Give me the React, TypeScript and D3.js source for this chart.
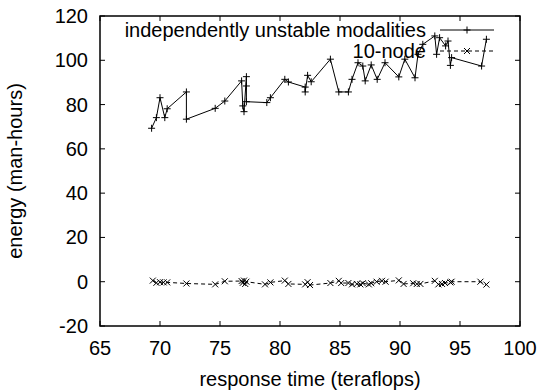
import React from 'react';
import * as d3 from 'd3';

// series 1: independently unstable modalities
const unstableX = [69.3, 69.7, 70.0, 70.4, 70.6, 72.2, 72.2, 74.6, 75.4, 76.8, 76.9, 77.0, 77.2, 77.2, 77.2, 78.9, 79.2, 80.4, 80.7, 82.1, 82.1, 82.3, 82.6, 84.2, 84.9, 85.7, 86.0, 86.5, 86.9, 87.1, 87.6, 88.1, 88.75, 89.9, 90.4, 91.25, 91.5, 91.9, 92.9, 93.05, 93.3, 93.8, 94.0, 94.2, 94.3, 96.8, 97.2];
const unstableY = [69.3, 74.1, 83.1, 74.1, 78.1, 85.7, 73.4, 78.3, 81.6, 90.7, 79.4, 76.8, 92.6, 88.4, 81.3, 80.9, 83.1, 91.4, 90.2, 87.9, 85.7, 93.2, 90.3, 100.5, 85.7, 85.7, 91.4, 98.9, 97.4, 90.7, 97.9, 91.4, 98.9, 92.5, 100.5, 92.1, 102.7, 107.2, 111.0, 102.7, 110.2, 106.5, 108.7, 97.7, 101.2, 97.4, 109.5];

// series 2: 10-node
const nodeX = [69.4, 69.7, 70.0, 70.3, 70.6, 72.2, 74.6, 75.4, 76.8, 76.9, 77.0, 77.1, 77.2, 78.75, 79.2, 80.4, 80.7, 82.1, 82.3, 82.5, 84.2, 84.9, 85.1, 85.7, 86.0, 86.4, 86.7, 86.9, 87.4, 87.6, 88.05, 88.5, 88.8, 89.9, 90.3, 91.1, 91.4, 91.7, 92.9, 93.2, 93.5, 93.75, 94.2, 94.3, 96.7, 97.2];
const nodeY = [0.5, -0.5, -0.2, -0.3, -0.3, -0.8, -1.2, 0.2, 0.3, -0.5, 0.5, -1.0, 0.0, -1.2, -0.3, 0.5, -1.0, -1.2, -0.2, -1.5, -0.6, 0.4, -0.6, -0.6, -1.2, -1.0, -1.2, -0.7, -1.2, -0.7, 0.0, 0.4, 0.0, 0.6, -1.0, -0.7, -1.0, -1.0, 0.4, -1.2, -1.0, -0.6, -0.3, 0.0, 0.0, -1.3];

const xTicks = [65, 70, 75, 80, 85, 90, 95, 100];
const yTicks = [-20, 0, 20, 40, 60, 80, 100, 120];
const labels = ['independently unstable modalities', '10-node'];

const App: React.FC = () => {
  const width = 540;
  const height = 391;
  const left = 100, right = 520, top = 16, bottom = 326;
  const font = '"Liberation Sans", Arial, Helvetica, sans-serif';
  const fs = 20;

  const x = d3.scaleLinear().domain([65, 100]).range([left, right]);
  const y = d3.scaleLinear().domain([-20, 120]).range([bottom, top]);

  const s1 = unstableX.map((v, i) => [v, unstableY[i]] as [number, number]);
  const s2 = nodeX.map((v, i) => [v, nodeY[i]] as [number, number]);
  const line = d3.line<[number, number]>().x(d => x(d[0])).y(d => y(d[1]));

  // gnuplot point types: + and x
  const plus = (cx: number, cy: number, k: string) => (
    <path key={k} d={`M${cx - 3.5},${cy}h7M${cx},${cy - 3.5}v7`} stroke="#000" strokeWidth={1} />
  );
  const cross = (cx: number, cy: number, k: string) => (
    <path key={k} d={`M${cx - 3},${cy - 3}l6,6M${cx - 3},${cy + 3}l6,-6`} stroke="#000" strokeWidth={1} />
  );

  const tl = 5;

  return (
    <svg width={width} height={height} style={{ position: 'absolute', left: 0, top: 0, background: '#fff' }}
      fontFamily={font} fontSize={fs}>
      {/* ticks, mirrored */}
      {xTicks.map(t => (
        <g key={'xt' + t}>
          <line x1={x(t)} x2={x(t)} y1={bottom} y2={bottom - tl} stroke="#000" />
          <line x1={x(t)} x2={x(t)} y1={top} y2={top + tl} stroke="#000" />
          <text x={x(t)} y={bottom + 29} textAnchor="middle">{t}</text>
        </g>
      ))}
      {yTicks.map(t => (
        <g key={'yt' + t}>
          <line x1={left} x2={left + tl} y1={y(t)} y2={y(t)} stroke="#000" />
          <line x1={right} x2={right - tl} y1={y(t)} y2={y(t)} stroke="#000" />
          <text x={left - 12} y={y(t)} dy="0.35em" textAnchor="end">{t}</text>
        </g>
      ))}
      <rect x={left} y={top} width={right - left} height={bottom - top} fill="none" stroke="#000" strokeWidth={1.5} />

      {/* series */}
      <path d={line(s1) || ''} fill="none" stroke="#000" strokeWidth={1} />
      {s1.map((d, i) => plus(x(d[0]), y(d[1]), 'p' + i))}
      <path d={line(s2) || ''} fill="none" stroke="#000" strokeWidth={1} strokeDasharray="4,3" />
      {s2.map((d, i) => cross(x(d[0]), y(d[1]), 'c' + i))}

      {/* legend */}
      <text x={426} y={30} dy="0.35em" textAnchor="end">{labels[0]}</text>
      <line x1={440} x2={494} y1={30} y2={30} stroke="#000" />
      {plus(467, 30, 'lp')}
      <text x={426} y={51} dy="0.35em" textAnchor="end">{labels[1]}</text>
      <line x1={440} x2={494} y1={51} y2={51} stroke="#000" strokeDasharray="4,3" />
      {cross(467, 51, 'lc')}

      {/* axis titles */}
      <text x={(left + right) / 2} y={386} textAnchor="middle">response time (teraflops)</text>
      <text transform={`translate(22,${(top + bottom) / 2}) rotate(-90)`} textAnchor="middle">energy (man-hours)</text>
    </svg>
  );
};

export default App;
